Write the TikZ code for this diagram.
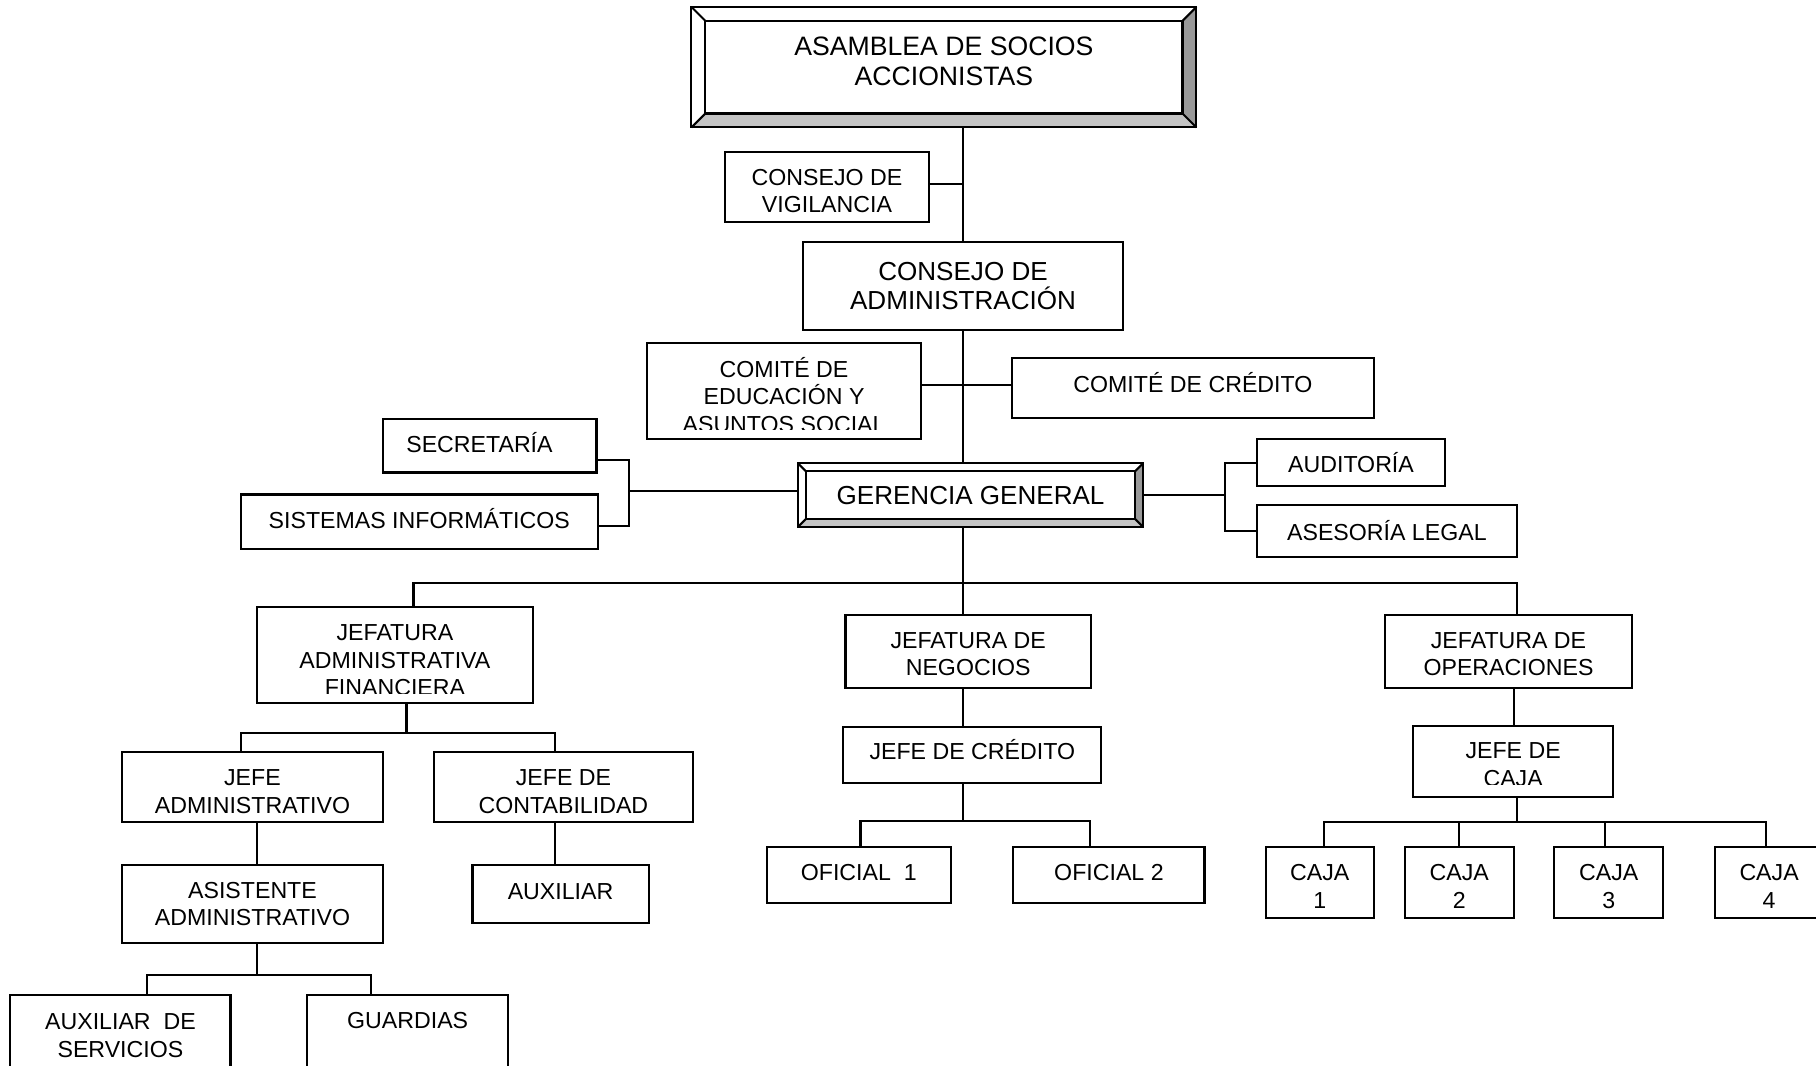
\documentclass[tikz,border=0pt]{standalone}
\usepackage{fontspec}
\setmainfont{Liberation Sans}
\usetikzlibrary{calc}

\newcommand{\orgsmall}{\fontsize{20}{24}\selectfont}
\newcommand{\orgbig}{\fontsize{22.5}{25}\selectfont}
\newcommand{\orgtop}{\fontsize{23}{26}\selectfont}

\definecolor{bevright}{gray}{0.6}
\definecolor{bevbottom}{gray}{0.77}

% raised frame round a node: #1 node name, #2 depth of the bevel
\newcommand{\bevelframe}[2]{%
  \fill[bevright] (#1.north east) -- (#1.south east) -- ($(#1.south east)+(-#2,-#2)$) -- ($(#1.north east)+(-#2,#2)$) -- cycle;
  \fill[bevbottom] (#1.south west) -- (#1.south east) -- ($(#1.south east)+(-#2,-#2)$) -- ($(#1.south west)+(#2,-#2)$) -- cycle;
  \draw ($(#1.north west)+(#2,#2)$) rectangle ($(#1.south east)+(-#2,-#2)$);
  \draw (#1.north west) -- ++(#2,#2) (#1.north east) -- ++(-#2,#2)
        (#1.south east) -- ++(-#2,-#2) (#1.south west) -- ++(#2,-#2);
  \draw (#1.north west) rectangle (#1.south east);
}

\begin{document}
\begin{tikzpicture}[x=1pt, y=-1pt, line width=1.8pt,
    box/.style={draw, rectangle, inner sep=0pt, outer sep=0pt, align=center, font=\orgsmall},
    txt/.style={inner sep=0pt, outer sep=0pt, align=center, font=\orgsmall},
    lift/.style={text depth=#1},
    sink/.style={text height=#1}]
    \fill[white, use as bounding box] (0,0) rectangle (1568,920);
    \clip (0,0) rectangle (1568,920);

    % top levels
    \node [box, font=\orgtop, lift=10pt, minimum width=436, minimum height=104] (asam) at (815,58) {ASAMBLEA DE SOCIOS\\ACCIONISTAS};
    \bevelframe{asam}{12}
    \node [box, sink=45pt, minimum width=176, minimum height=61] (vig) at (714,161.5) {CONSEJO DE\\VIGILANCIA};
    \node [box, font=\orgbig, minimum width=277, minimum height=76] (adm) at (831.5,247) {CONSEJO DE\\ADMINISTRACIÓN};
    \node [box, minimum width=236, minimum height=83] (edu) at (677,337.5) {};
    \begin{scope}
        \clip (edu.north west) rectangle ($(edu.south east)+(0,-8)$);
        \node [txt] (edutxt) at (677,341) {COMITÉ DE\\EDUCACIÓN Y\\ASUNTOS SOCIAL};
    \end{scope}
    \node [box, lift=10pt, minimum width=312, minimum height=52] (cred) at (1030,335) {COMITÉ DE CRÉDITO};
    \node [box, lift=6pt, minimum width=184, minimum height=46] (sec) at (423,385) {SECRETARÍA\hspace{18pt}};
    \node [box, lift=6pt, minimum width=308, minimum height=47] (sis) at (362,450.5) {SISTEMAS INFORMÁTICOS};
    \node [box, font=\orgbig, minimum width=298, minimum height=55] (ger) at (838,427.5) {GERENCIA GENERAL};
    \bevelframe{ger}{7}
    \node [box, minimum width=163, minimum height=41] (aud) at (1166.5,399.5) {AUDITORÍA};
    \node [box, minimum width=225, minimum height=45] (ase) at (1197.5,458.5) {ASESORÍA LEGAL};

    % jefaturas
    \node [box, minimum width=238, minimum height=83] (jaf) at (341,565.5) {};
    \begin{scope}
        \clip (jaf.north west) rectangle ($(jaf.south east)+(0,-8)$);
        \node [txt] (jaftxt) at (341,570) {JEFATURA\\ADMINISTRATIVA\\FINANCIERA};
    \end{scope}
    \node [box, sink=42.5pt, minimum width=212, minimum height=63] (neg) at (836,562.5) {JEFATURA DE\\NEGOCIOS};
    \node [box, sink=42.5pt, minimum width=213, minimum height=63] (ope) at (1302.5,562.5) {JEFATURA DE\\OPERACIONES};

    % administrative branch
    \node [box, sink=46pt, minimum width=226, minimum height=61] (jad) at (218,679.5) {JEFE\\ADMINISTRATIVO};
    \node [box, sink=46pt, minimum width=223, minimum height=61] (con) at (486.5,679.5) {JEFE DE\\CONTABILIDAD};
    \node [box, minimum width=226, minimum height=67] (asi) at (218,780.5) {ASISTENTE\\ADMINISTRATIVO};
    \node [box, lift=4pt, minimum width=152, minimum height=50] (aux) at (484,772) {AUXILIAR};
    \node [box, lift=6pt, minimum width=190, minimum height=76] (ser) at (104,897) {AUXILIAR~~DE\\SERVICIOS};
    \node [box, lift=8pt, minimum width=174, minimum height=76] (gua) at (352,897) {GUARDIAS\\\mbox{}};

    % business branch
    \node [box, lift=10pt, minimum width=223, minimum height=48] (jcr) at (839.5,652) {JEFE DE CRÉDITO};
    \node [box, lift=4pt, minimum width=159, minimum height=49] (of1) at (741.5,755.5) {OFICIAL~~1};
    \node [box, lift=4pt, minimum width=165, minimum height=49] (of2) at (957.5,755.5) {OFICIAL 2};

    % operations branch
    \node [box, minimum width=173, minimum height=61] (jca) at (1306.5,657.5) {};
    \begin{scope}
        \clip (jca.north west) rectangle ($(jca.south east)+(0,-11)$);
        \node [txt] (jcatxt) at (1306.5,660) {JEFE DE\\CAJA};
    \end{scope}
    \node [box, sink=45pt, minimum width=93, minimum height=62] (ca1) at (1139.5,762) {CAJA\\1};
    \node [box, sink=45pt, minimum width=94, minimum height=62] (ca2) at (1260,762) {CAJA\\2};
    \node [box, sink=45pt, minimum width=94, minimum height=62] (ca3) at (1389,762) {CAJA\\3};
    \node [box, sink=45pt, minimum width=93, minimum height=62] (ca4) at (1527.5,762) {CAJA\\4};

    % connectors
    \draw (asam.south -| adm.north) -- (adm.north);
    \draw ([yshift=3pt]vig.east) -- ([yshift=3pt]vig.east -| adm.north);
    \draw (adm.south) -- (adm.south |- ger.north);
    \draw ([yshift=5pt]edu.east) -- ([yshift=5pt]edu.east -| cred.west);

    \coordinate (lbr) at (543,424);
    \draw ([yshift=-12pt]sec.east) -| (lbr) |- ([yshift=-4pt]sis.east);
    \draw (lbr) -- (lbr -| ger.west);
    \coordinate (rbr) at (1058,427.5);
    \draw (ger.east) -- (rbr);
    \draw (aud.west) -| (rbr) |- (ase.west);

    \coordinate (busl) at (357,503);
    \coordinate (busr) at (1310,503);
    \draw (adm.south |- ger.south) -- (adm.south |- neg.north);
    \draw (busl |- jaf.north) -- (busl) -- (busr) -- (busr |- ope.north);

    \coordinate (b1) at (351,633);
    \coordinate (b1l) at (208,633);
    \coordinate (b1r) at (479,633);
    \draw (b1 |- jaf.south) -- (b1);
    \draw (b1l |- jad.north) -- (b1l) -- (b1r) -- (b1r |- con.north);
    \draw ([xshift=4pt]jad.south) -- ([xshift=4pt]asi.north);
    \draw (b1r |- con.south) -- (b1r |- aux.north);
    \coordinate (b2l) at (127,842);
    \coordinate (b2r) at (320,842);
    \draw ([xshift=4pt]asi.south) -- ([xshift=4pt]asi.south |- b2l);
    \draw (b2l |- ser.north) -- (b2l) -- (b2r) -- (b2r |- gua.north);

    \coordinate (b3l) at (743,709);
    \coordinate (b3r) at (941,709);
    \draw (adm.south |- neg.south) -- (adm.south |- jcr.north);
    \draw (adm.south |- jcr.south) -- (adm.south |- b3l);
    \draw (b3l |- of1.north) -- (b3l) -- (b3r) -- (b3r |- of2.north);

    \coordinate (b4) at (1310,710);
    \coordinate (b4l) at (1143,710);
    \coordinate (b4r) at (1525,710);
    \draw ([xshift=4.5pt]ope.south) -- ([xshift=4.5pt]ope.south |- jca.north);
    \draw (b4 |- jca.south) -- (b4);
    \draw (b4l |- ca1.north) -- (b4l) -- (b4r) -- (b4r |- ca4.north);
    \draw (ca2.north) -- (ca2.north |- b4l);
    \draw ([xshift=-3pt]ca3.north) -- ([xshift=-3pt]ca3.north |- b4l);
\end{tikzpicture}
\end{document}
